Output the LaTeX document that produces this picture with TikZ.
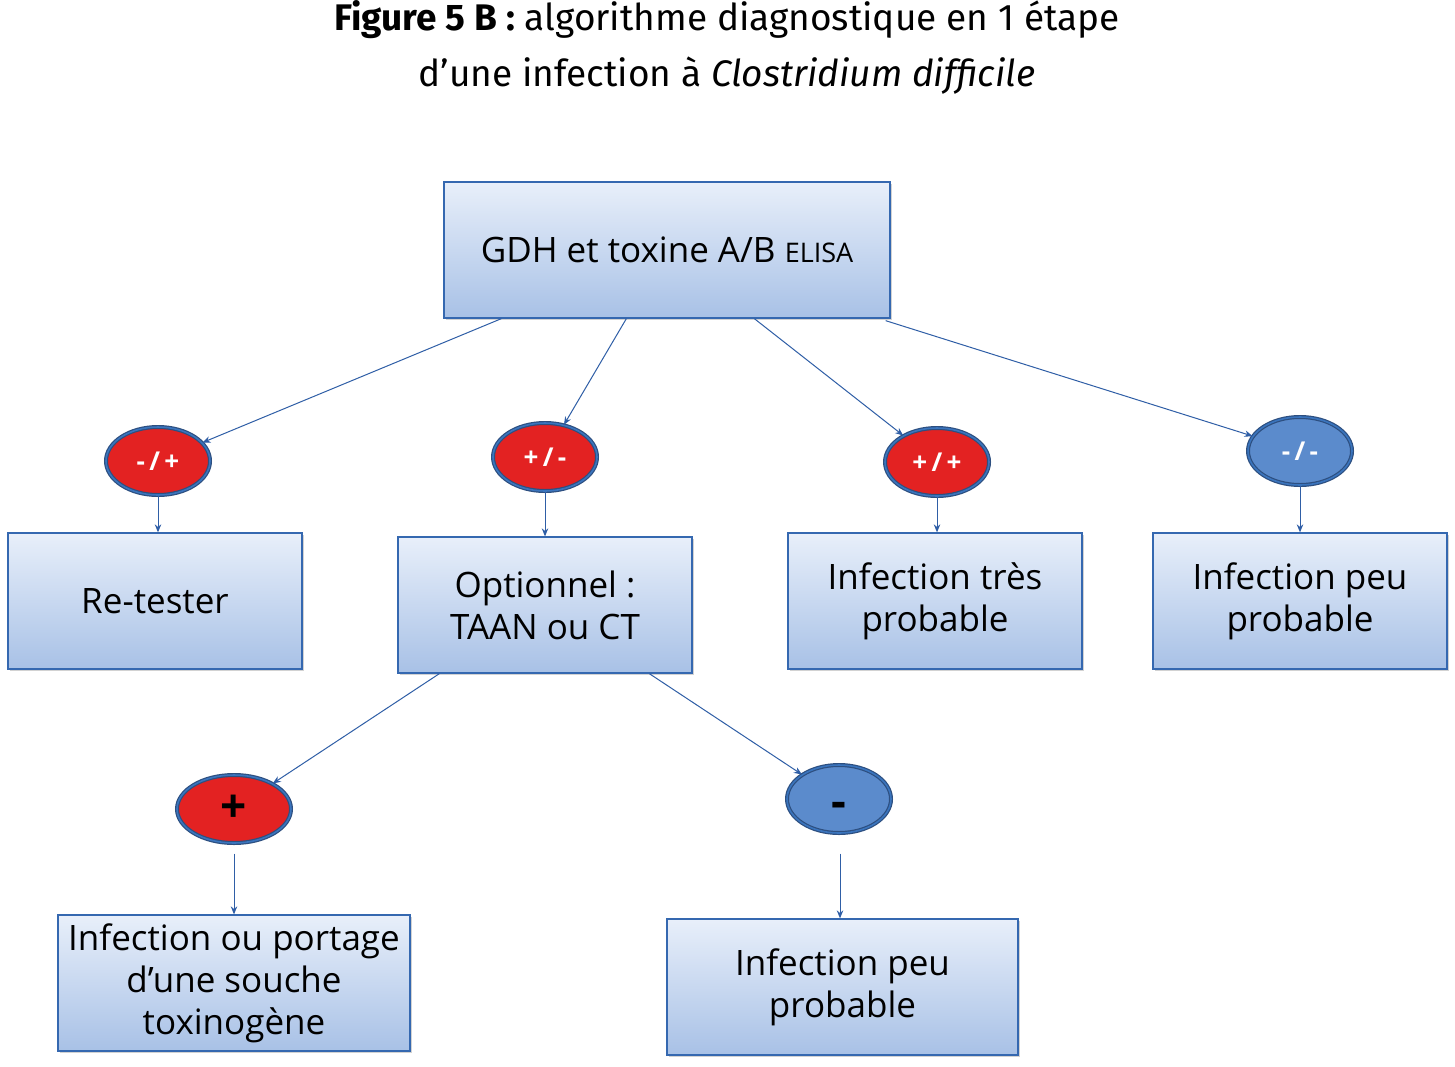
\documentclass[tikz,border=0pt]{standalone}
\usepackage{fontspec}
\setmainfont{Open Sans}
\newfontfamily\titlefont{Fira Sans}
\usetikzlibrary{shapes.geometric,arrows.meta,calc,shadows}
\definecolor{boxblue}{HTML}{3568B0}
\definecolor{boxtop}{HTML}{E8EFFA}
\definecolor{boxbot}{HTML}{A8C1E6}
\definecolor{arrblue}{HTML}{2F5EA6}
\definecolor{ellred}{HTML}{E32222}
\definecolor{ellfill}{HTML}{5B8BCC}
\definecolor{elldark}{HTML}{2D4F80}
\definecolor{ellmid}{HTML}{3A74BD}
\tikzset{
  box/.style={draw=boxblue, line width=1.3pt, top color=boxtop, bottom color=boxbot,
    minimum height=136pt, align=center, inner sep=0pt,
    font=\fontsize{35}{42}\selectfont,
    drop shadow={shadow xshift=2pt, shadow yshift=-2pt, opacity=0.35, fill=gray}},
  ellbase/.style={ellipse, draw=elldark, line width=1.2pt, double=ellmid, double distance=1.6pt,
    minimum width=104pt, minimum height=68pt, inner sep=0pt},
  redell/.style={ellbase, fill=ellred, text=white, font=\fontsize{26}{26}\selectfont\bfseries},
  blueell/.style={ellbase, fill=ellfill, text=white, font=\fontsize{26}{26}\selectfont\bfseries},
  conn/.style={draw=arrblue, line width=1pt, -{Stealth[length=8pt,width=6.5pt]}}
}
\begin{document}
\begin{tikzpicture}[x=1pt,y=-1pt]
\useasboundingbox[fill=white] (0,0) rectangle (1455,1066);
% title
\node[align=center, font=\titlefont\fontsize{37}{56}\selectfont] (title) at (727,47)
  {\textbf{Figure 5 B :} algorithme diagnostique en 1 étape\\d’une infection à \textit{Clostridium difficile}};
% boxes
\node[box, minimum width=446pt] (top) at (667,250) {GDH et toxine A/B {\fontsize{27}{27}\selectfont ELISA}};
\node[box, minimum width=294pt] (retest) at (155,601) {Re-tester};
\node[box, minimum width=294pt] (opt) at (545,605) {Optionnel :\\TAAN ou CT};
\node[box, minimum width=294pt] (tres) at (935,601) {Infection très\\probable};
\node[box, minimum width=294pt] (peuA) at (1300,601) {Infection peu\\probable};
\node[box, minimum width=352pt] (port) at (234,983) {Infection ou portage\\d’une souche\\toxinogène};
\node[box, minimum width=351pt] (peuB) at (842.5,987) {Infection peu\\probable};
% ellipses
\node[redell] (e1) at (158,461) {-\,/\,+};
\node[redell] (e2) at (545,457) {+\,/\,-};
\node[redell] (e3) at (937,462) {+\,/\,+};
\node[blueell] (e4) at (1300,451) {-\,/\,-};
\node[ellbase, fill=ellred, minimum width=114pt, font=\fontsize{46}{46}\selectfont\bfseries] (plus) at (234,809) {+};
\node[ellbase, fill=ellfill, font=\fontsize{46}{46}\selectfont\bfseries] (minus) at (839,799) {\raisebox{-18pt}[0pt][0pt]{-}};
% connectors
\draw[conn] ($(top.south west)+(58,0)$) -- (e1);
\draw[conn] ($(top.south west)+(183,0)$) -- (e2);
\draw[conn] ($(top.south west)+(311,0)$) -- (e3);
\draw[conn] ($(top.south east)+(-5,2)$) -- (e4);
\draw[conn] (e1.south) -- (e1.south |- retest.north);
\draw[conn] (e2.south) -- (e2.south |- opt.north);
\draw[conn] (e3.south) -- (e3.south |- tres.north);
\draw[conn] (e4.south) -- (e4.south |- peuA.north);
\draw[conn] ($(opt.south west)+(42,0)$) -- (plus);
\draw[conn] ($(opt.south west)+(252,0)$) -- (minus);
\coordinate (pstart) at ($(plus.south)+(0,10)$);
\coordinate (mstart) at ($(minus.south)+(1,20)$);
\draw[conn] (pstart) -- (pstart |- port.north);
\draw[conn] (mstart) -- (mstart |- peuB.north);
\end{tikzpicture}
\end{document}
